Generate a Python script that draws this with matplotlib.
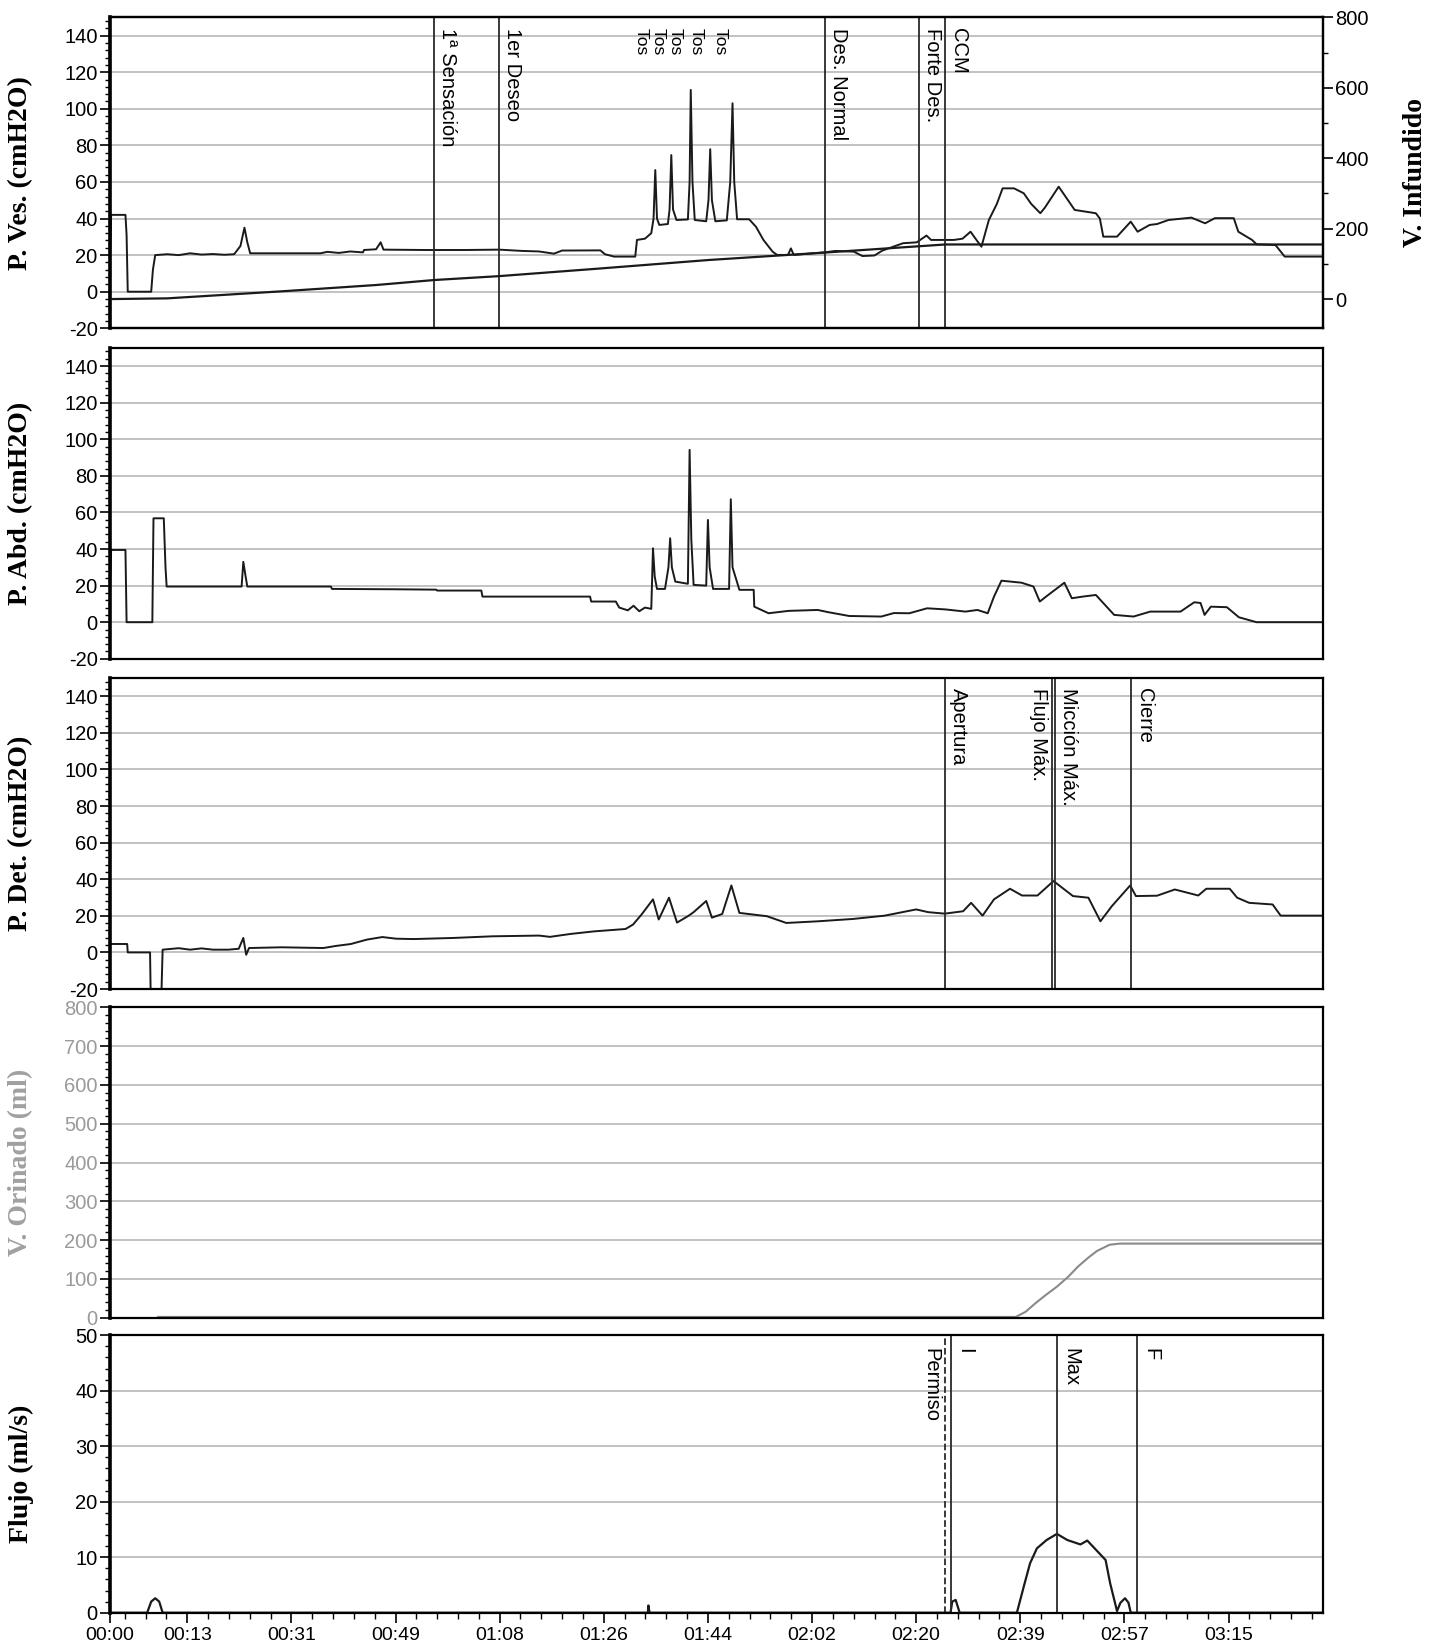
import numpy as np
import matplotlib
matplotlib.use("Agg")
import matplotlib.pyplot as plt
from matplotlib.ticker import AutoMinorLocator, FixedLocator, MultipleLocator

plt.rcParams["axes.unicode_minus"] = False

# time axis (s)
tick_pos = [0, 13.5, 31.7, 49.9, 68.1, 86.3, 104.5, 122.7, 140.9, 159.1, 177.3, 195.5]
tick_labels = ["00:00", "00:13", "00:31", "00:49", "01:08", "01:26", "01:44",
               "02:02", "02:20", "02:39", "02:57", "03:15"]
t_max = 212

# P. Ves (cmH2O)
ves_t = [0, 0.2, 2.7, 2.9, 3.1, 7.2, 7.5, 7.9, 10, 12, 14, 16, 18, 20, 21.7, 22.8, 23.5, 24.0,
         24.5, 30, 36.8, 38, 40, 42, 44.2, 44.4, 46.5, 47.3, 47.8, 55, 62, 68, 72, 75, 77.6, 79,
         85.7, 86.5, 88.1, 91.8, 92.1, 93.5, 94.6, 95.0, 95.3, 95.6, 96, 97.5, 97.8, 98.1, 98.4,
         99, 101, 101.3, 101.5, 101.8, 102.2, 104.2, 104.6, 104.9, 105.2, 105.8, 107.8, 108.4,
         108.8, 109.1, 109.6, 111.7, 112.9, 114.2, 115.8, 116.6, 118.5, 119, 119.5, 124.9, 126.8,
         130, 131.5, 133.6, 135, 138.6, 141, 142.7, 143.5, 147.5, 149, 150.4, 151.5, 152.3, 153.6,
         155, 156, 158, 159.7, 161, 162.6, 163.4, 165.8, 167, 168.6, 172.3, 173, 173.6, 176,
         178.4, 179.6, 181.7, 183, 185, 189, 191.4, 193.1, 196.4, 197.2, 199.6, 200.4, 203.7,
         205.3, 212]
ves_v = [17, 42, 42, 31, 0, 0, 12, 20, 20.5, 20, 21, 20.3, 20.6, 20.2, 20.5, 25, 35, 27,
         21, 21, 21, 21.8, 21.2, 22, 21.5, 22.8, 23.2, 27, 23, 22.8, 22.8, 23, 22.3, 22, 20.8, 22.5,
         22.6, 20.5, 19.2, 19.2, 28.3, 29, 32, 40, 66.5, 40, 36.5, 37, 45, 74.7, 45,
         39.2, 39.5, 60, 110.3, 60, 39.2, 38.5, 50, 77.9, 50, 38.5, 39, 60,
         103, 60, 39.6, 39.6, 35.5, 28.3, 21.9, 20.1, 20.1, 23.7, 20.1, 21.5, 22.3,
         21.9, 19.5, 19.8, 22.5, 26.5, 27, 30.7, 28.3, 28.3, 29, 32.8, 28, 24.6, 39.2,
         48, 56.5, 56.5, 53.8, 48, 42.9, 46, 57.4, 52, 44.7, 42.9, 40, 30.1, 30.1,
         38.3, 32.8, 36.5, 37, 39.2, 40.5, 37.4, 40.2, 40.2, 32.8, 28.3, 25.9, 25.5,
         19.2, 19.2]

# V. Infundido (ml)
inf_t = [0, 10, 30, 46.6, 56.6, 67.9, 85, 104.7, 124.9, 146, 212]
inf_v = [0, 2, 22, 40, 54, 65, 86, 111, 132, 155, 155]

# P. Abd (cmH2O)
abd_t = [0, 0.2, 2.7, 2.9, 7.4, 7.6, 9.4, 9.7, 9.9, 23.0, 23.3, 23.7, 24.0, 38.6, 38.8, 50, 57,
         57.2, 64.9, 65.1, 75, 83.9, 84.1, 88.4, 89, 90.5, 91.5, 92.5, 93.5, 94.6, 94.9, 95.2,
         95.6, 97.0, 97.6, 97.9, 98.2, 98.8, 101.0, 101.3, 101.6, 102, 104.2, 104.5, 104.8,
         105.4, 108.2, 108.5, 108.8, 110, 112.5, 112.6, 115.1, 118.6, 123.7, 125.5, 129.2,
         134.8, 137, 139.7, 142.8, 146, 149.5, 151.6, 153.4, 154.5, 155.8, 159.3, 161.4, 162.5,
         163.6, 166.8, 168.1, 170, 172.3, 175.5, 178.9, 181.8, 187.1, 189.5, 190.6, 191.3,
         192.4, 195.2, 197.3, 200.4, 212]
abd_v = [16, 39.5, 39.5, 0, 0, 56.8, 56.8, 30, 19.5, 19.5, 33, 25, 19.5, 19.5, 18.2, 18.0, 17.8,
         17.3, 17.3, 14, 14, 14, 11.3, 11.3, 8, 6.5, 9, 6, 8, 7.3, 40.4, 25,
         18.2, 18.2, 30, 45.9, 30, 22.2, 21, 94.2, 45, 20.4, 20, 55.9, 30,
         18.2, 18.2, 67.2, 30, 17.7, 17.7, 8.5, 4.9, 6.2, 6.7, 5.5, 3.4,
         3.1, 5, 4.9, 7.6, 7, 5.8, 6.7, 4.9, 14, 22.7, 21.6, 19.5, 11.3,
         14, 21.6, 13.1, 14, 14.9, 4, 3.1, 5.8, 5.8, 10.9, 10.5, 4,
         8.5, 8.2, 2.7, 0, 0]

# P. Det (cmH2O)
det_t = [0, 3.0, 3.1, 7.0, 7.1, 9.0, 9.2, 12, 14, 16, 18, 20.7, 22.5, 23.3, 23.8, 24.3, 30, 37.3,
         39.4, 42.1, 44.9, 47.6, 50, 53.1, 60, 66.8, 75, 76.9, 80.5, 84.6, 90.1, 91.4, 92.9,
         94.9, 95.9, 97.7, 99.1, 101.1, 102, 104.2, 105.2, 107, 108.6, 110, 114.8, 118.2, 123.7,
         129.9, 135.4, 140.9, 143, 145.9, 149.1, 150.5, 152.5, 154.5, 157.3, 159.4, 162.1,
         164.9, 168.3, 171, 173.1, 175.1, 178.3, 179.3, 183, 186.1, 190.2, 191.6, 195.7, 197,
         199.1, 203.2, 204.6, 212]
det_v = [4.6, 4.6, 0, 0, -21, -21, 1.5, 2.3, 1.5, 2.2, 1.5, 1.5, 2, 7.9, -1.3, 2.4, 2.8, 2.4,
         3.5, 4.6, 7, 8.4, 7.5, 7.3, 7.9, 8.8, 9.2, 8.5, 10.1, 11.5, 12.8, 15.2, 20.7,
         29, 18, 29.9, 16.3, 20, 22, 28.1, 19, 21, 36.6, 21.6, 19.8, 16.1, 17,
         18.3, 20.1, 23.5, 22, 21.2, 22.5, 27.1, 20.1, 29.0, 34.8, 31.1, 31.1,
         39, 30.8, 29.9, 17, 25.3, 36.6, 30.8, 31, 34.4, 31.1, 34.8, 34.8, 29.9,
         27.1, 26.2, 20.1, 20.1]

# V. Orinado (ml)
ori_t = [8.4, 158.3, 160, 161.8, 163.5, 165.5, 167.5, 169.2, 171, 172.5, 174.7, 176.5, 212]
ori_v = [2, 2, 15, 38, 58, 80, 106, 132, 155, 172, 188, 191, 191]

# Flujo (ml/s)
flu_t = [0, 6.5, 7.2, 7.9, 8.6, 9.2, 94.0, 94.1, 94.3, 146.9, 147.2, 147.8, 148.5, 158.5, 159.7,
         160.8, 162, 163.7, 165.5, 167.3, 169.6, 170.8, 171.9, 174.0, 174.8, 176.0, 176.6,
         177.4, 178.0, 178.4, 212]
flu_v = [0, 0, 2.0, 2.6, 2.0, 0, 0, 1.3, 0, 0, 2.0, 2.3, 0, 0, 4.7,
         8.9, 11.6, 13.1, 14.2, 13.1, 12.3, 13.0, 11.8, 9.5, 5.3, 0.3, 1.8,
         2.6, 1.8, 0, 0]

# events
ves_ev_t = [56.6, 67.9, 124.9, 141.4, 145.9]
ves_ev_lab = ["1ª Sensación", "1er Deseo", "Des. Normal", "Forte Des.", "CCM"]
tos_t = [92.9, 95.8, 98.8, 102.4, 106.6]
det_ev_t = [145.9, 164.7, 165.2, 178.4]
det_ev_lab = ["Apertura", "Flujo Máx.", "Micción Máx.", "Cierre"]
det_ev_side = ["r", "l", "r", "r"]
flu_ev_t = [145.9, 146.9, 165.5, 179.5]
flu_ev_lab = ["Permiso", "I", "Max", "F"]
flu_ev_side = ["l", "r", "r", "r"]
flu_ev_ls = ["--", "-", "-", "-"]

W, H = 1434, 1648
fig = plt.figure(figsize=(W / 100, H / 100), dpi=100)

SANS = "Liberation Sans"
SERIF = "Liberation Serif"
TRACE = "#1a1a1a"
GRID = "#bdbdbd"
EVC = "#2a2a2a"
YLAB_SIZE = 20


def make_ax(top, bottom):
    left, right = 110, 1323
    ax = fig.add_axes([left / W, 1 - bottom / H, (right - left) / W, (bottom - top) / H])
    ax.set_xlim(0, t_max)
    for s in ax.spines.values():
        s.set_linewidth(1.6)
        s.set_color("black")
    ax.spines["left"].set_linewidth(2.6)
    ax.grid(axis="y", color=GRID, lw=1.3)
    ax.set_axisbelow(True)
    ax.tick_params(axis="y", which="major", length=7, width=1.2, labelsize=14.5, pad=2)
    ax.tick_params(axis="y", which="minor", length=3.5, width=1.0)
    ax.tick_params(axis="x", which="both", bottom=False, labelbottom=False)
    ax.yaxis.set_label_coords(-0.063, 0.5)
    return ax


def sans_ticks(ax):
    for lab in ax.get_yticklabels():
        lab.set_fontfamily(SANS)


def pressure_axis(ax, label):
    ax.set_ylim(-20, 150)
    ax.set_yticks(np.arange(-20, 141, 20))
    ax.yaxis.set_minor_locator(AutoMinorLocator(5))
    ax.set_ylabel(label, fontsize=YLAB_SIZE, fontweight="bold", family=SERIF)
    sans_ticks(ax)


def event(ax, t, label, side="r", ytop=0.965, ls="-"):
    ax.axvline(t, color=EVC, lw=1.3, ls=ls)
    dx = 3 if side == "r" else -3
    ax.annotate(label, xy=(t, ytop), xycoords=("data", "axes fraction"),
                xytext=(dx, 0), textcoords="offset points", rotation=270,
                ha="left" if side == "r" else "right", va="top",
                fontsize=14.5, family=SANS, color="black")


# panel 1: P. Ves + V. Infundido
ax1 = make_ax(17.3, 328.3)
pressure_axis(ax1, "P. Ves. (cmH2O)")
ax1.plot(ves_t, ves_v, color=TRACE, lw=1.4)
for t, lab in zip(ves_ev_t, ves_ev_lab):
    event(ax1, t, lab)
for t in tos_t:
    ax1.annotate("Tos", xy=(t, 0.965), xycoords=("data", "axes fraction"), rotation=270,
                 ha="center", va="top", fontsize=12.5, family=SANS)
axr = ax1.twinx()
axr.set_ylim(-83, 800)
axr.set_yticks(np.arange(0, 801, 200))
axr.yaxis.set_minor_locator(MultipleLocator(100))
axr.tick_params(axis="y", which="major", length=7, width=1.2, labelsize=14.5, pad=2)
axr.tick_params(axis="y", which="minor", length=3.5, width=1.0)
sans_ticks(axr)
axr.plot(inf_t, inf_v, color=TRACE, lw=1.6)
axr.set_ylabel("V. Infundido", fontsize=YLAB_SIZE, fontweight="bold", family=SERIF, rotation=90)
axr.yaxis.set_label_coords(1.066, 0.5)
for s in axr.spines.values():
    s.set_linewidth(1.6)

# panel 2: P. Abd
ax2 = make_ax(347.8, 658.8)
pressure_axis(ax2, "P. Abd. (cmH2O)")
ax2.plot(abd_t, abd_v, color=TRACE, lw=1.4)

# panel 3: P. Det
ax3 = make_ax(678, 989)
pressure_axis(ax3, "P. Det. (cmH2O)")
ax3.plot(det_t, det_v, color=TRACE, lw=1.4)
for t, lab, sd in zip(det_ev_t, det_ev_lab, det_ev_side):
    event(ax3, t, lab, sd, ytop=0.968)

# panel 4: V. Orinado
ax4 = make_ax(1007.3, 1317.7)
ax4.set_ylim(0, 800)
ax4.set_yticks(np.arange(0, 801, 100))
ax4.yaxis.set_minor_locator(AutoMinorLocator(5))
ax4.tick_params(axis="y", labelcolor="#9a9a9a")
sans_ticks(ax4)
ax4.set_ylabel("V. Orinado (ml)", fontsize=YLAB_SIZE, fontweight="bold", family=SERIF,
               color="#a0a0a0")
ax4.plot(ori_t, ori_v, color="#8a8a8a", lw=1.5)

# panel 5: Flujo
ax5 = make_ax(1335.2, 1612.7)
ax5.set_ylim(0, 50)
ax5.set_yticks(np.arange(0, 51, 10))
ax5.yaxis.set_minor_locator(AutoMinorLocator(5))
sans_ticks(ax5)
ax5.set_ylabel("Flujo (ml/s)", fontsize=YLAB_SIZE, fontweight="bold", family=SERIF)
ax5.plot(flu_t, flu_v, color=TRACE, lw=1.6)
for t, lab, sd, ls in zip(flu_ev_t, flu_ev_lab, flu_ev_side, flu_ev_ls):
    event(ax5, t, lab, sd, ytop=0.955, ls=ls)
ax5.tick_params(axis="x", which="both", bottom=True, labelbottom=True)
ax5.set_xticks(tick_pos)
ax5.set_xticklabels(tick_labels, fontsize=14, family=SANS)
ax5.xaxis.set_minor_locator(FixedLocator(np.arange(13.5 - 3 * 3.64, t_max, 3.64)))
ax5.tick_params(axis="x", which="major", length=7, width=1.2, pad=3)
ax5.tick_params(axis="x", which="minor", length=4, width=1.0)

fig.savefig("out.png", dpi=100, facecolor="white")
